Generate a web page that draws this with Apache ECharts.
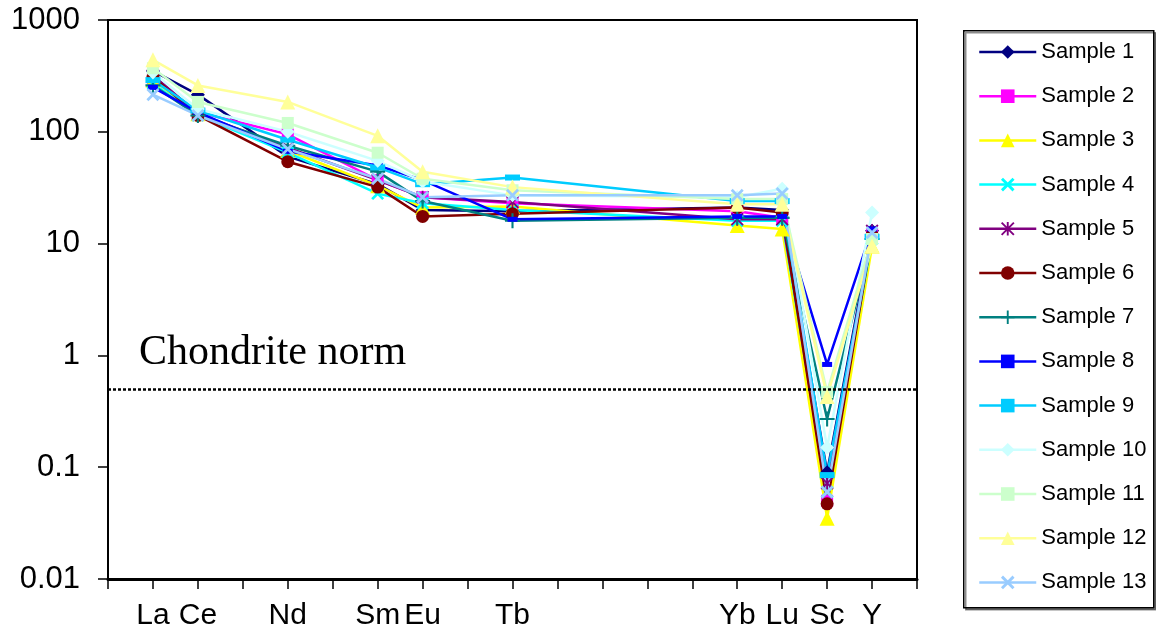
<!DOCTYPE html>
<html>
<head>
<meta charset="utf-8">
<script src="https://cdn.jsdelivr.net/npm/echarts@6/dist/echarts.min.js"></script>
<style>
  html, body { margin: 0; padding: 0; background: #fff; }
  #chart { width: 1156px; height: 635px; }
</style>
</head>
<body>
<div id="chart"></div>
<script>
// element slots along the x axis
const elements = ['', 'La', 'Ce', 'Pr', 'Nd', 'Pm', 'Sm', 'Eu', 'Gd', 'Tb', 'Dy', 'Ho', 'Er', 'Tm', 'Yb', 'Lu', 'Sc', 'Y', ''];
// elements that were measured (only these get a label)
const measured = ['La', 'Ce', 'Nd', 'Sm', 'Eu', 'Tb', 'Yb', 'Lu', 'Sc', 'Y'];

const sample1  = [350, 215, 60, 34, 20, 19.5, 21, 20, 0.09, 13];
const sample2  = [300, 150, 95, 37, 26, 23, 19.5, 17, 0.05, 12];
const sample3  = [290, 145, 68, 33, 21, 21.5, 14.5, 13.5, 0.035, 9.5];
const sample4  = [270, 140, 65, 28, 23, 20, 16, 16, 0.06, 11];
const sample5  = [320, 145, 72, 37, 26, 23.5, 16.5, 16.5, 0.072, 13];
const sample6  = [310, 140, 54, 32, 17.5, 18.5, 21, 19, 0.047, 12];
const sample7  = [260, 140, 75, 44, 24, 16, 17, 17, 0.27, 11];
const sample8  = [250, 150, 67, 50, 37, 16.5, 17.5, 17.5, 0.83, 13.5];
const sample9  = [290, 155, 85, 48, 34, 39, 24, 24, 0.085, 11.5];
const sample10 = [340, 160, 100, 55, 36, 27, 26, 31, 0.15, 19];
const sample11 = [370, 185, 120, 65, 38, 30, 25, 25, 0.47, 11];
const sample12 = [440, 260, 185, 92, 44, 32, 22.5, 22.5, 0.43, 9.5];
const sample13 = [215, 140, 70, 38, 26, 27, 27, 28, 0.06, 12.5];

const chondriteNorm = 0.5;

// marker shapes
const xShape = 'path://M0,1.5L1.5,0L10,8.5L8.5,10Z M8.5,0L10,1.5L1.5,10L0,8.5Z';
const starShape = 'path://M0,1L1,0L10,9L9,10Z M9,0L10,1L1,10L0,9Z M4.3,0H5.7V10H4.3Z';
const plusShape = 'path://M4.3,0H5.7V4.3H10V5.7H5.7V10H4.3V5.7H0V4.3H4.3Z';

const samples = [
  { name: 'Sample 1',  data: sample1,  color: '#000080', symbol: 'diamond',  size: 14 },
  { name: 'Sample 2',  data: sample2,  color: '#FF00FF', symbol: 'rect',     size: 12 },
  { name: 'Sample 3',  data: sample3,  color: '#FFFF00', symbol: 'triangle', size: 15 },
  { name: 'Sample 4',  data: sample4,  color: '#00FFFF', symbol: xShape,     size: 13 },
  { name: 'Sample 5',  data: sample5,  color: '#800080', symbol: starShape,  size: 13 },
  { name: 'Sample 6',  data: sample6,  color: '#800000', symbol: 'circle',   size: 13 },
  { name: 'Sample 7',  data: sample7,  color: '#008080', symbol: plusShape,  size: 15 },
  { name: 'Sample 8',  data: sample8,  color: '#0000FF', symbol: 'rect',     size: [10, 5] },
  { name: 'Sample 9',  data: sample9,  color: '#00CCFF', symbol: 'rect',     size: [15, 6] },
  { name: 'Sample 10', data: sample10, color: '#CCFFFF', symbol: 'diamond',  size: 14 },
  { name: 'Sample 11', data: sample11, color: '#CCFFCC', symbol: 'rect',     size: 12 },
  { name: 'Sample 12', data: sample12, color: '#FFFF99', symbol: 'triangle', size: 15 },
  { name: 'Sample 13', data: sample13, color: '#99CCFF', symbol: xShape,     size: 13 }
];

// spread measured values over the 19 slots, nulls elsewhere
const toSlots = (vals) => elements.map(el => {
  const i = measured.indexOf(el);
  return i >= 0 ? vals[i] : null;
});

const myChart = echarts.init(document.getElementById('chart'));

const series = samples.map((s, idx) => ({
  name: s.name,
  type: 'line',
  data: toSlots(s.data),
  connectNulls: true,
  symbol: s.symbol,
  symbolSize: s.size,
  showAllSymbol: true,
  color: s.color,
  lineStyle: { color: s.color, width: 2.5 },
  itemStyle: { color: s.color },
  emphasis: { disabled: true },
  animation: false,
  markLine: idx === 0 ? {
    silent: true,
    symbol: 'none',
    label: { show: false },
    lineStyle: { color: '#000', type: [3, 2], width: 2.5 },
    data: [{ yAxis: chondriteNorm }]
  } : undefined
}));

const option = {
  animation: false,
  grid: {
    left: 108, top: 20, right: 239, bottom: 56,
    show: true, borderColor: '#000', borderWidth: 2
  },
  legend: {
    orient: 'vertical',
    left: 978,
    top: 39,
    padding: 0,
    itemWidth: 57,
    itemHeight: 17,
    itemGap: 18.2,
    data: samples.map(s => s.name),
    lineStyle: { width: 2.5 },
    textStyle: { fontFamily: 'Liberation Sans, Arial', fontSize: 22, lineHeight: 26, color: '#000' }
  },
  xAxis: {
    type: 'category',
    data: elements,
    boundaryGap: false,
    axisLine: { lineStyle: { color: '#000', width: 3 } },
    axisTick: { interval: 0, length: 10, lineStyle: { color: '#000', width: 1.5 } },
    axisLabel: {
      interval: 0, margin: 22, color: '#000',
      fontFamily: 'Liberation Sans, Arial', fontSize: 30,
      formatter: v => (measured.indexOf(v) >= 0 ? v : '')
    },
    splitLine: { show: false }
  },
  yAxis: {
    type: 'log',
    logBase: 10,
    min: 0.01,
    max: 1000,
    axisLine: { show: true, lineStyle: { color: '#000', width: 2 } },
    axisTick: { show: true, length: 10, lineStyle: { color: '#000', width: 1.5 } },
    minorTick: { show: false },
    splitLine: { show: false },
    axisLabel: {
      margin: 28, color: '#000',
      fontFamily: 'Liberation Sans, Arial', fontSize: 31,
      formatter: v => String(+Number(v).toPrecision(2))
    }
  },
  graphic: [
    {
      type: 'text',
      left: 139,
      top: 332,
      style: {
        text: 'Chondrite norm',
        fontFamily: 'Liberation Serif, Times New Roman',
        fontSize: 42,
        fill: '#000'
      }
    },
    {
      type: 'rect',
      left: 963,
      top: 30,
      z: -1,
      shape: { width: 190, height: 577 },
      style: {
        fill: '#fff', stroke: '#000', lineWidth: 1.5,
        shadowColor: 'rgba(0,0,0,0.45)', shadowOffsetX: 2, shadowOffsetY: 2, shadowBlur: 0
      }
    }
  ],
  series: series
};

myChart.setOption(option);
</script>
</body>
</html>
